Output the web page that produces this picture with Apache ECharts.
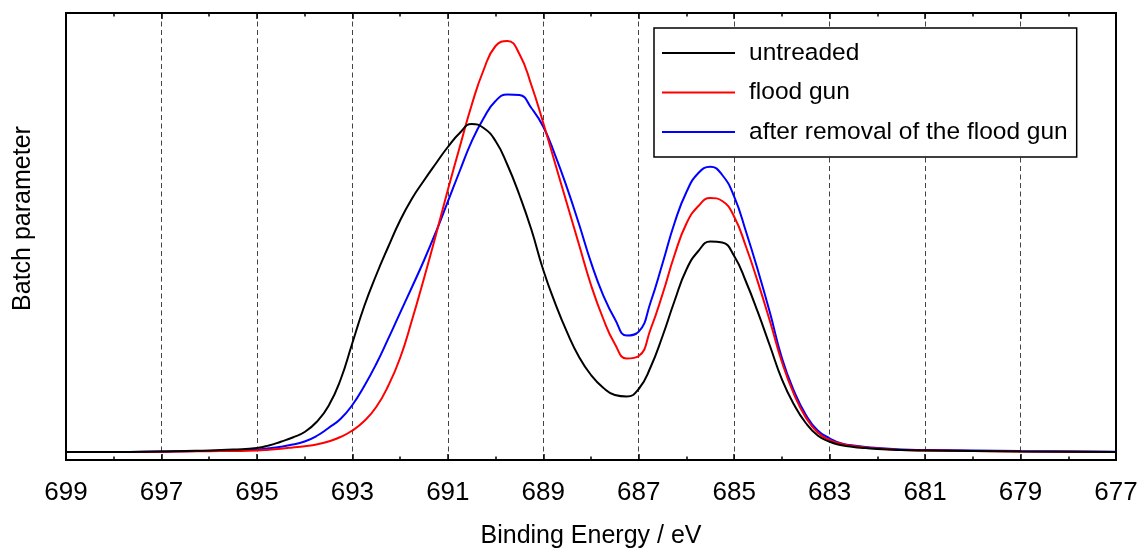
<!DOCTYPE html>
<html>
<head>
<meta charset="utf-8">
<script src="https://cdn.jsdelivr.net/npm/echarts@6/dist/echarts.min.js"></script>
<style>
html,body{margin:0;padding:0;background:#fff;}
#chart{width:1137px;height:553px;}
</style>
</head>
<body>
<div id="chart"></div>
<script>
// Binding energies (eV)
const energies = [699, 698, 697, 696.5, 696, 695.5, 695, 694.75, 694.5, 694.25, 694, 693.75, 693.5, 693.25, 693, 692.75, 692.5, 692.25, 692, 691.75, 691.5, 691.25, 691, 690.75, 690.5, 690.25, 690, 689.75, 689.5, 689.25, 689, 688.75, 688.5, 688.25, 688, 687.75, 687.5, 687.25, 687, 686.75, 686.5, 686.25, 686, 685.75, 685.5, 685.25, 685, 684.75, 684.5, 684.25, 684, 683.75, 683.5, 683.25, 683, 682.75, 682.5, 682.25, 682, 681.5, 681, 680, 679, 677];

const untreaded = [8, 8, 8.5, 9, 9.5, 10.5, 12, 14.5, 18.3, 22.5, 28, 38, 54, 80, 117, 154, 185, 213, 239.5, 261.5, 279.5, 296.5, 313, 327, 336, 332, 319, 295, 265, 230.5, 190, 156.6, 127.6, 103, 85, 72.5, 65, 63.5, 71, 93, 124, 159, 190.5, 209, 218.5, 217.5, 204, 178, 147.3, 114, 80.7, 55.7, 37, 24.5, 18.3, 14.8, 13, 12, 11, 10, 9.5, 9, 8.5, 8];

const floodGun = [8, 8, 8.3, 8.5, 8.8, 9, 9.5, 10.3, 11.3, 12.5, 13.8, 15.5, 18.5, 23, 29.5, 39, 53, 74, 102, 140, 181.6, 225, 270, 313, 355, 390, 414, 419, 406, 375, 337, 296.3, 255.7, 215.2, 175, 142, 116, 101.5, 104, 131, 166, 205, 236.5, 254, 262, 259, 243.3, 213, 177.4, 138.7, 98, 66.1, 42.6, 27.5, 20, 16, 14, 12.5, 11.5, 10, 9.5, 9, 8.5, 8];

const afterRemoval = [8, 8, 8.5, 8.8, 9, 9.5, 10.5, 11.7, 13.3, 15.5, 18.5, 24, 32, 41, 55, 74, 96, 121.1, 147.2, 173, 199.5, 227.9, 258.3, 289, 318.6, 341.7, 359, 365.5, 365, 352, 333.3, 304.7, 271.9, 235.7, 197.6, 165.4, 141.1, 124.5, 128.3, 158, 196.7, 237, 268, 287, 293.3, 285, 263.3, 228, 189.2, 147.3, 102, 69.4, 45.3, 29.5, 21.7, 16.5, 14.5, 13, 12, 10.5, 10, 9.5, 9, 8.3];

const seriesNames = ['untreaded', 'flood gun', 'after removal of the flood gun'];
const seriesColors = ['#000000', '#ff0000', '#0000ff'];

const FONT = "'Liberation Sans', Arial, sans-serif";

function pairs(ys) { return energies.map((e, i) => [e, ys[i]]); }
const allData = [untreaded, floodGun, afterRemoval];

const chart = echarts.init(document.getElementById('chart'), null, {renderer: 'canvas'});
chart.setOption({
  animation: false,
  backgroundColor: '#ffffff',
  grid: {left: 66, right: 21, top: 13, bottom: 93, containLabel: false, outerBoundsMode: 'none',
         show: true, borderColor: '#000', borderWidth: 2, backgroundColor: 'transparent', z: 10},
  legend: {
    orient: 'vertical', left: 654, top: 28,
    data: seriesNames,
    icon: 'rect', itemWidth: 73, itemHeight: 2, itemGap: 9.5,
    padding: [10, 9, 10, 8],
    backgroundColor: '#fff', borderColor: '#000', borderWidth: 1.5,
    textStyle: {fontFamily: FONT, fontSize: 24.5, color: '#000', lineHeight: 30, padding: [0, 0, 0, 9]},
    z: 20
  },
  xAxis: [{
    type: 'value', min: 677, max: 699, interval: 2, inverse: true, position: 'bottom',
    name: 'Binding Energy / eV', nameLocation: 'middle', nameGap: 64,
    nameTextStyle: {fontFamily: FONT, fontSize: 25, color: '#000'},
    axisLine: {show: false},
    axisTick: {show: true, inside: true, length: 6, lineStyle: {color: '#000', width: 1.5}},
    minorTick: {show: true, splitNumber: 2, length: 3.5, lineStyle: {color: '#000', width: 1.5}},
    axisLabel: {fontFamily: FONT, fontSize: 26, color: '#000', margin: 20},
    splitLine: {show: true, lineStyle: {color: '#444', width: 1, type: [5, 3.5]}}
  }, {
    type: 'value', min: 677, max: 699, interval: 2, inverse: true, position: 'top',
    axisLine: {show: false},
    axisTick: {show: true, inside: true, length: 6, lineStyle: {color: '#000', width: 1.5}},
    minorTick: {show: true, splitNumber: 2, length: 3.5, lineStyle: {color: '#000', width: 1.5}},
    axisLabel: {show: false},
    splitLine: {show: false}
  }],
  yAxis: {
    type: 'value', min: 0, max: 447,
    name: 'Batch parameter', nameLocation: 'middle', nameGap: 30, nameRotate: 90,
    nameTextStyle: {fontFamily: FONT, fontSize: 25, color: '#000', padding: [0, 0, 0, 36]},
    axisLine: {show: false}, axisTick: {show: false}, axisLabel: {show: false}, splitLine: {show: false}
  },
  series: seriesNames.map((n, i) => ({
    name: n, type: 'line', xAxisIndex: 0, data: pairs(allData[i]),
    smooth: 0.5, showSymbol: false, symbol: 'none',
    lineStyle: {color: seriesColors[i], width: 2}, itemStyle: {color: seriesColors[i]},
    z: 5 + (2 - i)
  }))
});
</script>
</body>
</html>
